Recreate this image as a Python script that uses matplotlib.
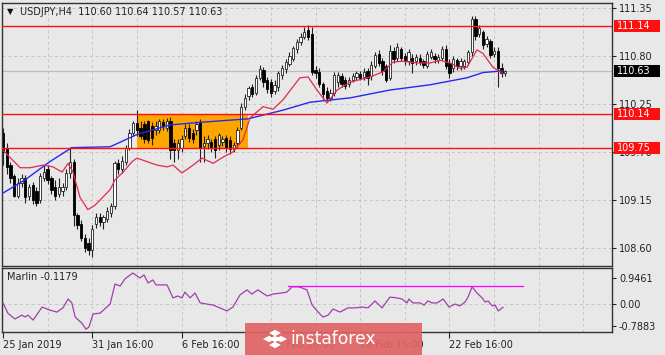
import matplotlib
matplotlib.use('Agg')
import matplotlib.pyplot as plt
import matplotlib.transforms as mtransforms
from matplotlib.patches import Rectangle, RegularPolygon
import numpy as np

# USDJPY H4 candles, bar 0 = 25 Jan 16:00
opens = [109.92, 109.75, 109.55, 109.42, 109.20, 109.35, 109.40, 109.20, 109.32, 109.25,
         109.15, 109.40, 109.50, 109.40, 109.30, 109.22, 109.25, 109.30, 109.46, 109.58,
         108.98, 108.88, 108.72, 108.66, 108.58, 108.88, 108.95, 108.90, 108.93, 109.00,
         109.08, 109.57, 109.50, 109.59, 109.75, 109.92, 110.03, 109.98, 110.02, 110.05,
         110.00, 109.95, 109.95, 110.04, 109.98, 110.05, 109.80, 109.72, 109.75, 109.88,
         109.98, 109.92, 109.95, 110.04, 109.77, 109.80, 109.82, 109.85, 109.78, 109.82,
         109.86, 109.84, 109.74, 109.80, 109.97, 110.22, 110.34, 110.44, 110.38, 110.55,
         110.64, 110.52, 110.50, 110.40, 110.45, 110.58, 110.65, 110.71, 110.77, 110.88,
         110.96, 111.02, 111.10, 111.05, 110.64, 110.62, 110.48, 110.40, 110.32, 110.38,
         110.50, 110.57, 110.52, 110.48, 110.52, 110.56, 110.59, 110.56, 110.63, 110.57,
         110.69, 110.82, 110.74, 110.68, 110.55, 110.86, 110.78, 110.88, 110.80, 110.74,
         110.78, 110.74, 110.78, 110.74, 110.69, 110.79, 110.80, 110.75, 110.78, 110.88,
         110.72, 110.66, 110.75, 110.68, 110.68, 110.73, 110.84, 111.22, 111.05, 111.08,
         110.94, 110.97, 110.82, 110.86, 110.66, 110.60]
highs = [109.97, 109.80, 109.58, 109.45, 109.40, 109.45, 109.44, 109.33, 109.36, 109.30,
         109.46, 109.55, 109.55, 109.42, 109.38, 109.40, 109.35, 109.50, 109.76, 109.62,
         109.00, 108.92, 108.76, 108.72, 108.86, 109.00, 109.00, 108.98, 109.07, 109.12,
         109.60, 109.62, 109.65, 109.78, 109.96, 110.05, 110.18, 110.05, 110.06, 110.07,
         110.04, 110.05, 110.08, 110.08, 110.09, 110.10, 109.85, 109.85, 109.90, 110.02,
         110.02, 109.96, 110.06, 110.08, 109.88, 109.90, 109.85, 109.88, 109.92, 109.88,
         109.90, 109.88, 109.82, 109.99, 110.26, 110.36, 110.46, 110.48, 110.58, 110.70,
         110.67, 110.56, 110.54, 110.52, 110.63, 110.70, 110.77, 110.84, 110.92, 111.00,
         111.06, 111.13, 111.15, 111.13, 110.68, 110.66, 110.50, 110.44, 110.42, 110.62,
         110.62, 110.60, 110.56, 110.56, 110.60, 110.63, 110.63, 110.66, 110.66, 110.74,
         110.85, 110.87, 110.78, 110.71, 110.93, 110.90, 110.95, 110.90, 110.83, 110.88,
         110.82, 110.82, 110.82, 110.77, 110.86, 110.88, 110.83, 110.82, 110.92, 110.93,
         110.76, 110.80, 110.78, 110.78, 110.76, 110.87, 111.26, 111.26, 111.15, 111.10,
         111.03, 111.00, 110.90, 110.90, 110.72, 110.64]
lows = [109.55, 109.45, 109.35, 109.18, 109.17, 109.30, 109.12, 109.15, 109.10, 109.08,
        109.12, 109.37, 109.33, 109.22, 109.15, 109.18, 109.20, 109.27, 109.40, 108.85,
        108.82, 108.68, 108.55, 108.52, 108.50, 108.83, 108.85, 108.82, 108.90, 108.96,
        109.05, 109.45, 109.46, 109.55, 109.72, 109.88, 109.88, 109.85, 109.80, 109.80,
        109.78, 109.90, 109.92, 109.95, 109.94, 109.62, 109.58, 109.62, 109.70, 109.85,
        109.82, 109.80, 109.90, 109.58, 109.58, 109.74, 109.70, 109.63, 109.72, 109.77,
        109.70, 109.68, 109.70, 109.76, 109.95, 110.18, 110.30, 110.33, 110.35, 110.52,
        110.45, 110.38, 110.33, 110.36, 110.40, 110.54, 110.60, 110.68, 110.74, 110.83,
        110.93, 110.99, 110.98, 110.58, 110.55, 110.44, 110.31, 110.28, 110.28, 110.34,
        110.44, 110.44, 110.42, 110.45, 110.50, 110.53, 110.52, 110.52, 110.47, 110.53,
        110.66, 110.68, 110.58, 110.50, 110.52, 110.72, 110.74, 110.74, 110.70, 110.70,
        110.60, 110.70, 110.70, 110.66, 110.66, 110.76, 110.72, 110.72, 110.75, 110.65,
        110.55, 110.62, 110.64, 110.64, 110.65, 110.70, 110.80, 110.98, 111.02, 110.88,
        110.90, 110.78, 110.79, 110.45, 110.56, 110.57]
closes = [109.70, 109.53, 109.40, 109.20, 109.35, 109.40, 109.18, 109.30, 109.15, 109.12,
          109.42, 109.47, 109.38, 109.27, 109.20, 109.30, 109.30, 109.46, 109.58, 108.98,
          108.86, 108.72, 108.60, 108.58, 108.82, 108.95, 108.90, 108.95, 109.02, 109.08,
          109.57, 109.50, 109.60, 109.75, 109.92, 110.03, 109.95, 109.88, 109.85, 109.84,
          109.86, 110.00, 110.05, 110.00, 110.06, 109.72, 109.72, 109.80, 109.85, 109.98,
          109.86, 109.85, 110.02, 109.75, 109.80, 109.85, 109.76, 109.72, 109.90, 109.85,
          109.75, 109.73, 109.78, 109.95, 110.22, 110.32, 110.43, 110.37, 110.55, 110.65,
          110.50, 110.42, 110.38, 110.47, 110.60, 110.66, 110.73, 110.80, 110.89, 110.96,
          111.02, 111.08, 111.02, 110.62, 110.60, 110.48, 110.36, 110.32, 110.38, 110.58,
          110.58, 110.48, 110.46, 110.53, 110.57, 110.60, 110.55, 110.62, 110.55, 110.70,
          110.81, 110.72, 110.63, 110.53, 110.86, 110.76, 110.90, 110.78, 110.75, 110.85,
          110.72, 110.79, 110.73, 110.70, 110.82, 110.85, 110.76, 110.79, 110.88, 110.68,
          110.60, 110.76, 110.68, 110.74, 110.74, 110.84, 111.22, 111.03, 111.12, 110.93,
          110.99, 110.81, 110.86, 110.66, 110.60, 110.63]

# moving averages (bar index, price)
red_ma_x = [0, 4.6, 7.3, 10.8, 13.4, 15.9, 17.5, 18.8, 20.7, 22.8, 24.7, 26.1, 28.8, 30.1,
            32.3, 34.7, 36.0, 38.7, 41.4, 44.1, 45.7, 48.1, 51.1, 53.5, 56.5, 59.1, 61.8,
            64.5, 66.4, 69.9, 72.6, 75.3, 79.8, 82.0, 84.4, 87.1, 89.8, 93.3, 98.7, 102.2,
            104.8, 107.5, 111.3, 114.8, 117.5, 120.2, 122.8, 124.7, 127.4, 129.0, 131.7, 134.4]
red_ma_y = [109.72, 109.52, 109.52, 109.55, 109.53, 109.47, 109.57, 109.47, 109.18, 109.04,
            109.09, 109.15, 109.27, 109.38, 109.47, 109.59, 109.63, 109.59, 109.55, 109.53,
            109.55, 109.46, 109.55, 109.63, 109.57, 109.64, 109.70, 109.84, 110.09, 110.22,
            110.19, 110.30, 110.55, 110.56, 110.41, 110.26, 110.41, 110.50, 110.56, 110.62,
            110.73, 110.74, 110.72, 110.72, 110.75, 110.72, 110.66, 110.67, 110.87, 110.83,
            110.67, 110.60]
blue_ma_x = [0, 5.9, 12.6, 18.5, 28.8, 36.0, 44.9, 53.0, 65.9, 75.3, 82.5, 93.3, 104.0,
             114.8, 124.7, 129.0, 134.4]
blue_ma_y = [109.23, 109.38, 109.59, 109.75, 109.76, 109.90, 110.01, 110.04, 110.08, 110.18,
             110.27, 110.32, 110.41, 110.47, 110.55, 110.61, 110.63]

# Marlin oscillator
marlin_x = [0, 1.3, 3.2, 5.1, 5.9, 6.7, 8.1, 10.5, 12.6, 14.5, 16.1, 17.5, 18.5, 19.4, 21.2,
            22.3, 23.1, 24.2, 26.1, 28.8, 30.1, 31.5, 32.8, 34.9, 36.8, 37.9, 39.0, 40.3,
            41.1, 44.1, 45.7, 47.0, 48.1, 48.9, 50.3, 51.6, 53.0, 56.5, 58.3, 60.2, 61.8,
            63.7, 65.6, 66.9, 68.5, 71.0, 72.6, 75.0, 76.3, 77.7, 79.3, 80.4, 81.7, 83.1,
            84.7, 86.0, 87.4, 88.7, 90.6, 92.7, 94.6, 96.5, 98.1, 100.0, 101.9, 104.0, 105.9,
            107.3, 108.6, 109.1, 110.2, 112.1, 113.2, 114.2, 115.3, 116.7, 118.3, 119.9,
            121.5, 122.8, 124.2, 125.0, 126.1, 127.4, 128.8, 129.6, 130.4, 131.5, 132.3,
            133.1, 134.4]
marlin_y = [0.04, -0.33, -0.54, -0.40, -0.47, -0.40, -0.58, -0.11, -0.22, -0.29, -0.14, 0.18,
            0.04, -0.47, -0.69, -0.91, -0.83, -0.36, -0.33, 0.00, 0.72, 0.65, 0.91, 1.12,
            0.94, 1.05, 0.76, 0.87, 0.69, 0.69, 0.22, 0.29, 0.22, 0.43, 0.22, 0.40, 0.04,
            -0.04, -0.14, -0.25, -0.11, 0.33, 0.51, 0.36, 0.51, 0.29, 0.36, 0.40, 0.43, 0.62,
            0.62, 0.58, 0.51, -0.04, -0.29, -0.47, -0.40, -0.18, -0.29, -0.14, -0.14, -0.11,
            -0.14, 0.11, -0.14, 0.25, 0.22, 0.18, 0.04, 0.18, 0.04, 0.04, -0.04, 0.11, 0.04,
            0.04, 0.18, -0.11, 0.00, -0.07, 0.07, 0.25, 0.62, 0.40, 0.22, 0.07, 0.11, -0.07,
            -0.04, -0.25, -0.12]
marlin_level = 0.65
marlin_level_span = [76.6, 139.8]

levels = [111.14, 110.14, 109.75]
last_price = 110.63
box_bars = [36.0, 65.9]
box_prices = [109.75, 110.12]
price_ticks = [111.35, 110.80, 110.25, 109.70, 109.15, 108.60]
marlin_ticks = [0.9461, 0.0, -0.7883]
marlin_labels = ['0.9461', '0.00', '-0.7883']
time_ticks = [0, 24, 48, 72, 96, 120]
time_labels = ['25 Jan 2019', '31 Jan 16:00', '6 Feb 16:00', '12 Feb 16:00',
               '18 Feb 16:00', '22 Feb 16:00']

W, H = 665, 355
bg = '#E8E8E8'
grid_kw = dict(color='#C4C4C4', lw=0.7, ls=(0, (3, 3)), zorder=0)
plt.rcParams['font.family'] = 'DejaVu Sans'

fig = plt.figure(figsize=(W / 100, H / 100), dpi=100, facecolor=bg)
ax = fig.add_axes([2 / W, 1 - 266 / H, 610 / W, 263 / H], facecolor=bg)
ax2 = fig.add_axes([2 / W, 1 - 332 / H, 610 / W, 64 / H], facecolor=bg)

xlim = (-0.27, 163.7)
ax.set_xlim(xlim)
ax.set_ylim(108.394, 111.407)
ax2.set_xlim(xlim)
ax2.set_ylim(-1.01, 1.30)

for a in (ax, ax2):
    for s in a.spines.values():
        s.set_color('#333333')
        s.set_linewidth(1.0)
    for v in range(12, 164, 12):
        a.axvline(v, **grid_kw)
for p in price_ticks:
    ax.axhline(p, **grid_kw)
ax2.axhline(0, **grid_kw)

# orange consolidation zone
ax.add_patch(Rectangle((box_bars[0], box_prices[0]), box_bars[1] - box_bars[0],
                       box_prices[1] - box_prices[0], fc='#FFA500', ec='none', zorder=1))

ax.axhline(last_price, color='#BDBDBD', lw=0.9, zorder=1.5)

# candles
idx = np.arange(len(opens))
o = np.array(opens)
c = np.array(closes)
up = c >= o
ax.vlines(idx, lows, highs, color='#222222', lw=0.8, zorder=2)
ax.bar(idx[up], np.maximum(c - o, 0.006)[up], bottom=o[up], width=0.62,
       color='white', edgecolor='#222222', lw=0.6, zorder=2.1)
ax.bar(idx[~up], (o - c)[~up], bottom=c[~up], width=0.62,
       color='black', edgecolor='black', lw=0.6, zorder=2.1)

ax.plot(blue_ma_x, blue_ma_y, color='#2828F0', lw=1.0, zorder=3)
ax.plot(red_ma_x, red_ma_y, color='#E42850', lw=0.9, zorder=3)

for lvl in levels:
    ax.axhline(lvl, color='#FF1010', lw=1.0, zorder=4)

# right axis
ax.yaxis.tick_right()
ax.set_yticks(price_ticks)
ax.set_yticklabels([f'{p:.2f}' for p in price_ticks])
ax.tick_params(axis='y', direction='out', length=3, pad=2, labelsize=7, colors='#222222')
ax.set_xticks([])

trans = mtransforms.blended_transform_factory(ax.transAxes, ax.transData)
bh = 12 / 87.3
for lvl, col in zip(levels + [last_price], ['#FF1010'] * 3 + ['black']):
    ax.add_patch(Rectangle((1.0033, lvl - bh / 2), 0.0754, bh, transform=trans,
                           fc=col, ec='none', clip_on=False, zorder=5))
    ax.text(1.0075, lvl, f'{lvl:.2f}', transform=trans, color='white', fontsize=7,
            va='center', ha='left', clip_on=False, zorder=6)

# indicator panel
ax2.plot(marlin_x, marlin_y, color='#A040A8', lw=0.9, zorder=3)
ax2.plot(marlin_level_span, [marlin_level] * 2, color='#FF00FF', lw=0.9, zorder=3)
ax2.yaxis.tick_right()
ax2.set_yticks(marlin_ticks)
ax2.set_yticklabels(marlin_labels)
ax2.tick_params(axis='y', direction='out', length=3, pad=2, labelsize=7, colors='#222222')
ax2.set_xticks(time_ticks)
ax2.set_xticklabels(time_labels, ha='left')
ax2.tick_params(axis='x', direction='out', length=4, pad=1.5, labelsize=7, colors='#222222')

# headers
fig.text(10 / W, 1 - 12 / H, '\u25bc', fontsize=6, ha='center', va='center', color='#111111')
fig.text(20 / W, 1 - 12 / H, 'USDJPY,H4  110.60 110.64 110.57 110.63', fontsize=7,
         ha='left', va='center', color='#222222')
fig.text(7 / W, 1 - 277 / H, 'Marlin -0.1179', fontsize=7, ha='left', va='center',
         color='#222222')

# watermark with small diamond logo
fig.patches.append(Rectangle((245 / W, 0), 177 / W, 32 / H, transform=fig.transFigure,
                             fc='#E06464', ec='none', alpha=0.92, zorder=10))
for dx, dy in [(0, 6), (-6, 0), (6, 0), (0, -6), (0, 0)]:
    fig.patches.append(RegularPolygon(((275 + dx) / W, (16 + dy) / H), 4, radius=3.2 / H,
                                      orientation=0, transform=fig.transFigure,
                                      fc='white', ec='none', zorder=11))
fig.text(290 / W, 1 - 339 / H, 'instaforex', fontsize=12.3, color='white',
         ha='left', va='center', zorder=11)

fig.savefig('out.png', dpi=100, facecolor=bg)
